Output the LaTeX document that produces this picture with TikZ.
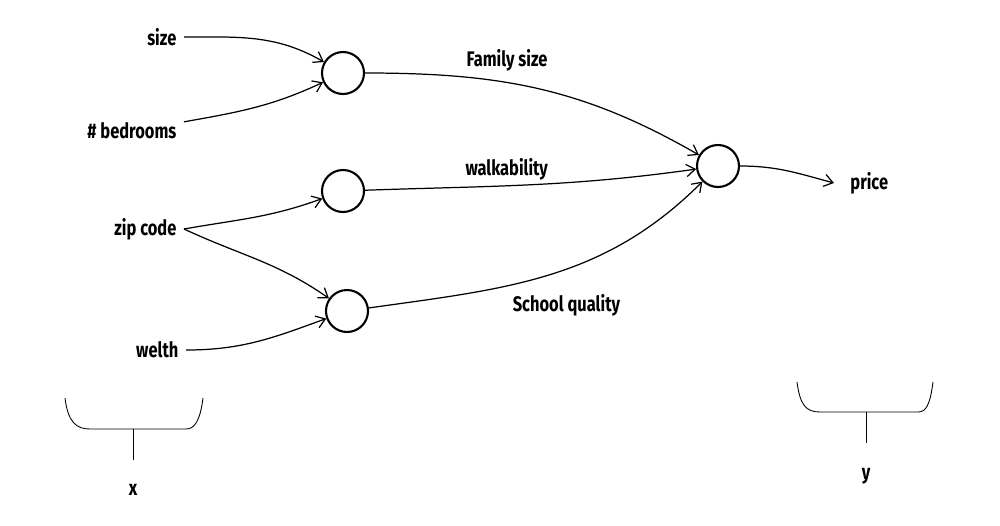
\documentclass[tikz,border=0pt]{standalone}
\usepackage{fontspec}
\setmainfont{Fira Sans}[FakeStretch=0.78]
\usetikzlibrary{arrows.meta}

\begin{document}
\begin{tikzpicture}[x=0.02cm,y=-0.02cm,
    >={Straight Barb[length=5pt,width=7pt]},line width=0.7pt,
    unit/.style={circle,draw,line width=1.2pt,minimum size=0.84cm,inner sep=0pt},
    feat/.style={anchor=east,inner sep=4pt,font=\large\bfseries},
    lbl/.style={font=\large\bfseries,inner sep=2pt},
    brace/.style={line width=0.5pt}]

  \useasboundingbox (0,0) rectangle (1000,525);

  % hidden units
  \node[unit] (fam) at (343,73) {};
  \node[unit] (walk) at (343,191) {};
  \node[unit] (school) at (347,311) {};
  \node[unit] (out) at (718,166) {};

  % inputs
  \node[feat] (size) at (184,37) {size};
  \node[feat] (bed) at (184,131) {\# bedrooms};
  \node[feat] (zip) at (184,229) {zip code};
  \node[feat] (welth) at (186,350) {welth};
  \node[lbl,anchor=west,inner xsep=9pt] (price) at (834,183) {price};

  \path[->] (size) edge [out=0,in=150] (fam)
        (bed) edge [out=10,in=205] (fam)
        (zip.east) edge [out=10,in=200] (walk)
              edge [out=-25,in=145] (school)
        (welth) edge [out=0,in=200] (school)
        (fam) edge [out=0,in=150] node[lbl,pos=0.4,above=4pt] {Family size} (out)
        (walk) edge [out=2,in=188] node[lbl,pos=0.42,above=1pt] {walkability} (out)
        (school) edge [out=8,in=225] node[lbl,pos=0.55,below=12pt] {School quality} (out)
        (out) edge [out=0,in=165] (price.west);

  % braces
  \draw[brace] (65,398) .. controls (68,422) and (76,429) .. (90,429) -- (186,429)
     .. controls (194,429) and (200,422) .. (203,398);
  \draw[brace] (133,429) -- (133,460);
  \node[lbl] (xlab) at (133,490) {x};

  \draw[brace] (797,382) .. controls (800,405) and (806,412) .. (820,412) -- (918,412)
     .. controls (926,412) and (930,405) .. (933,382);
  \draw[brace] (866,412) -- (866,443);
  \node[lbl] (ylab) at (866,476) {y};

\end{tikzpicture}
\end{document}
